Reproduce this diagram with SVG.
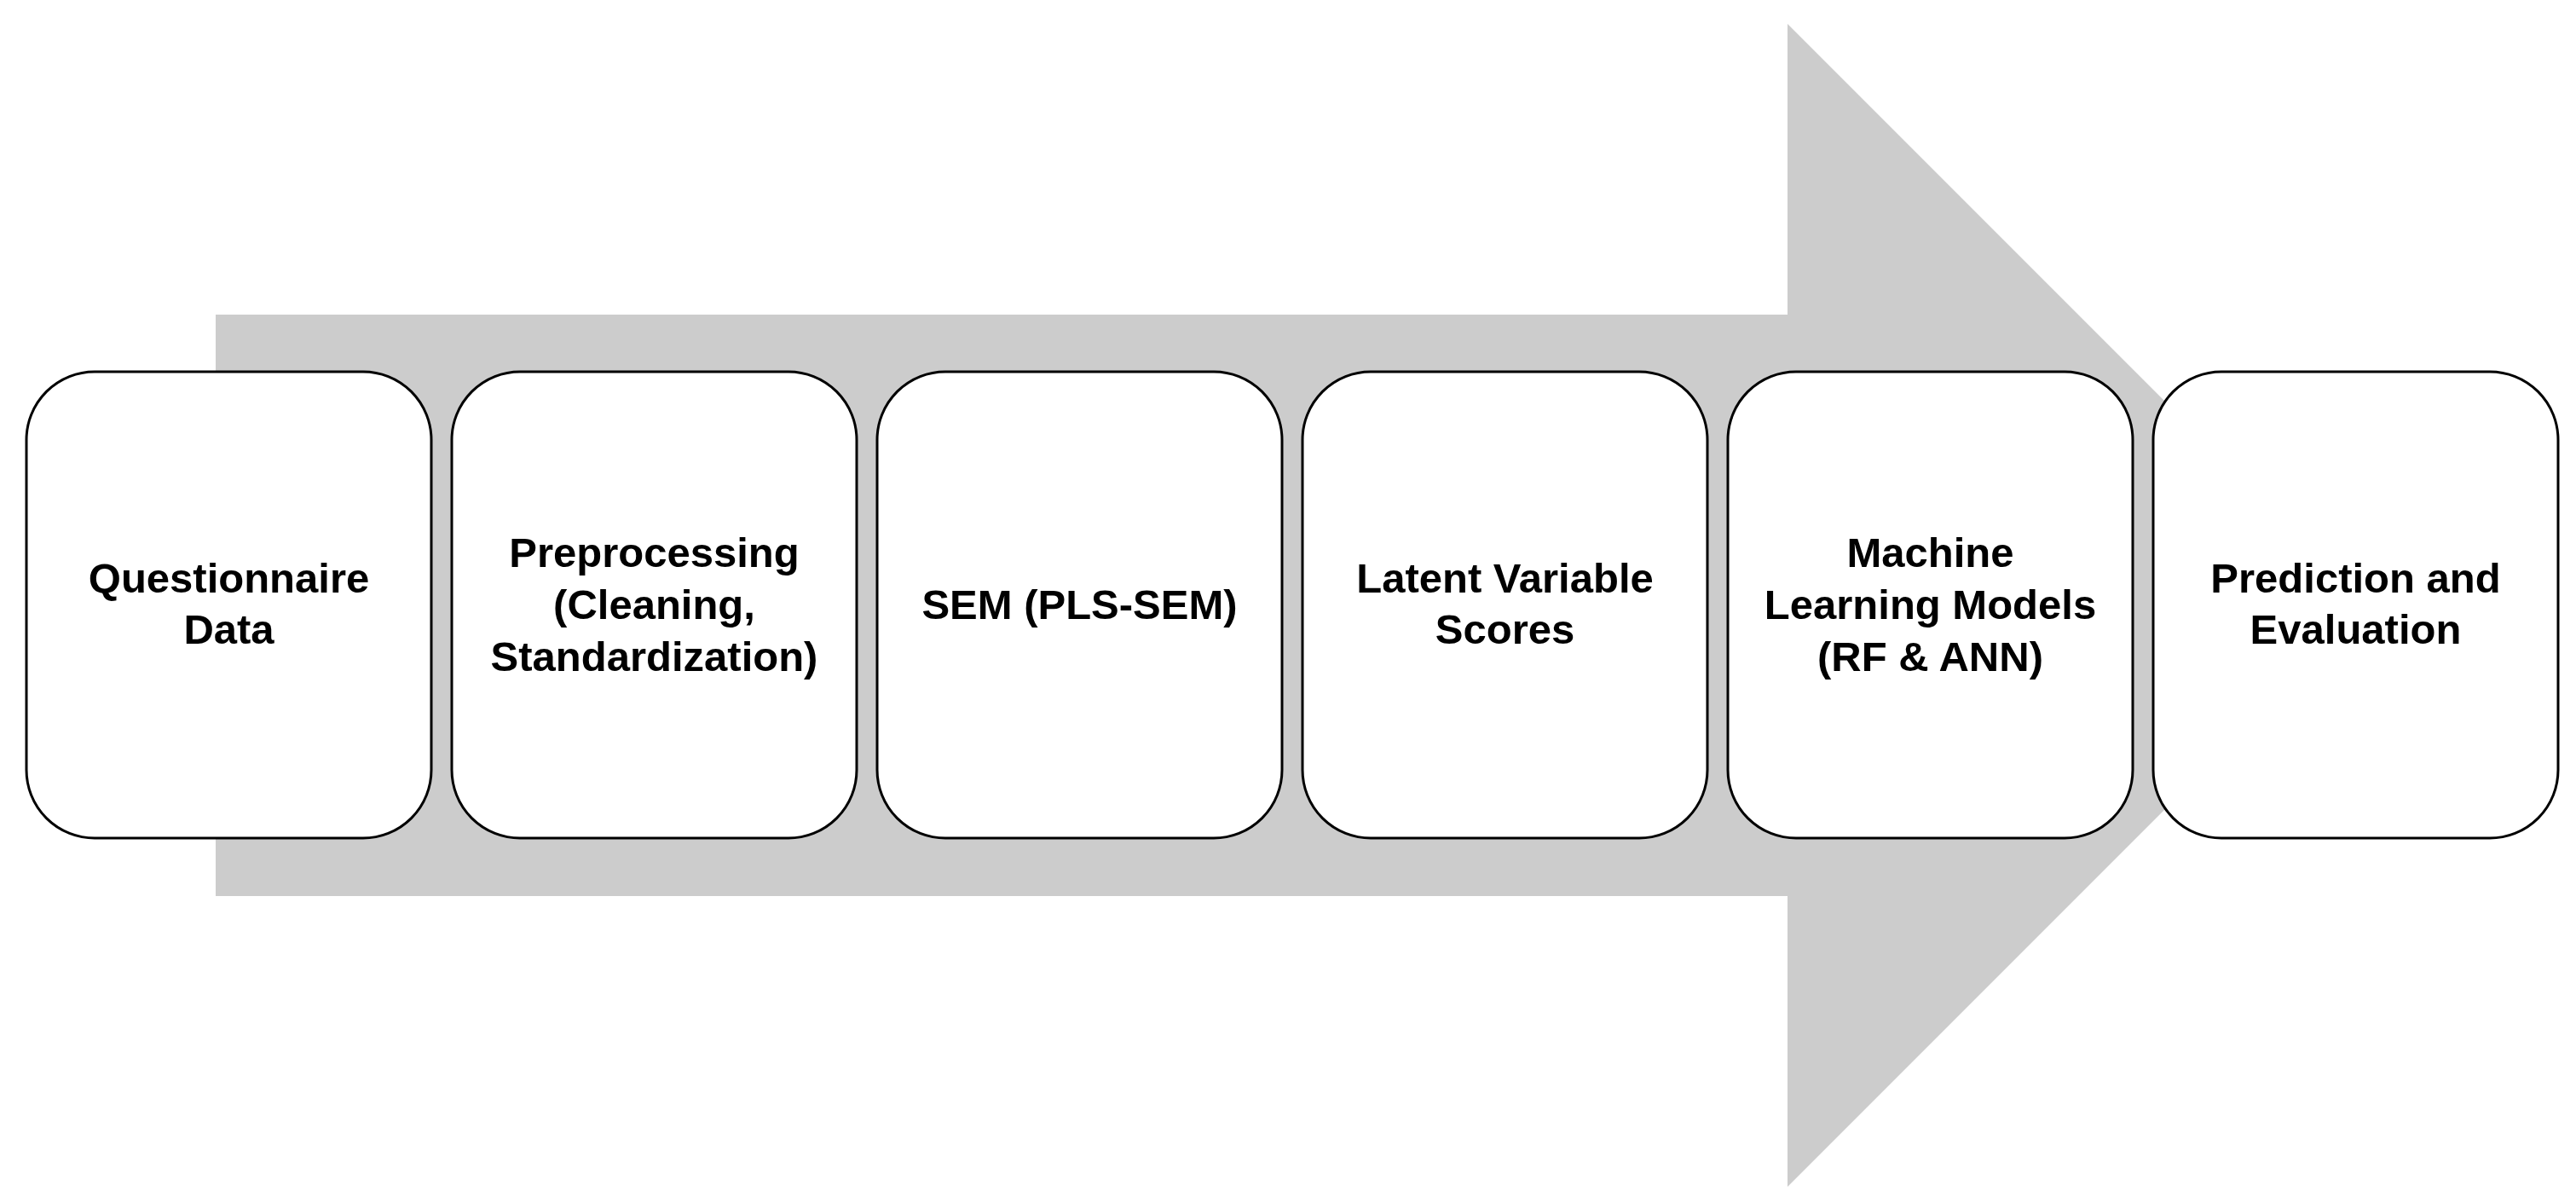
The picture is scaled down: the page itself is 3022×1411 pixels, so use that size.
<svg xmlns="http://www.w3.org/2000/svg" width="3022" height="1411" viewBox="0 0 3022 1411">
<style>
.box{fill:#ffffff;stroke:#000000;stroke-width:3}
.lbl{font-family:"Liberation Sans",Arial,sans-serif;font-weight:bold;font-size:49px;fill:#000000;text-anchor:middle}
</style>
<rect width="3022" height="1411" fill="#ffffff"/>
<g id="connectors">
<polygon points="253,369 2097,369 2097,28 2779,710 2097,1392 2097,1051 253,1051" fill="#cccccc"/>
</g>
<g id="n1"><rect class="box" x="31" y="436" width="475" height="547" rx="80" ry="80"/>
<text class="lbl" x="268.5"><tspan x="268.5" y="695">Questionnaire</tspan><tspan x="268.5" y="755">Data</tspan></text></g>
<g id="n2"><rect class="box" x="530" y="436" width="475" height="547" rx="80" ry="80"/>
<text class="lbl" x="767.5"><tspan x="767.5" y="665">Preprocessing</tspan><tspan x="767.5" y="726">(Cleaning,</tspan><tspan x="767.5" y="787">Standardization)</tspan></text></g>
<g id="n3"><rect class="box" x="1029" y="436" width="475" height="547" rx="80" ry="80"/>
<text class="lbl" x="1266.5" y="726">SEM (PLS-SEM)</text></g>
<g id="n4"><rect class="box" x="1528" y="436" width="475" height="547" rx="80" ry="80"/>
<text class="lbl" x="1765.5"><tspan x="1765.5" y="695">Latent Variable</tspan><tspan x="1765.5" y="755">Scores</tspan></text></g>
<g id="n5"><rect class="box" x="2027" y="436" width="475" height="547" rx="80" ry="80"/>
<text class="lbl" x="2264.5"><tspan x="2264.5" y="665">Machine</tspan><tspan x="2264.5" y="726">Learning Models</tspan><tspan x="2264.5" y="787">(RF &amp; ANN)</tspan></text></g>
<g id="n6"><rect class="box" x="2526" y="436" width="475" height="547" rx="80" ry="80"/>
<text class="lbl" x="2763.5"><tspan x="2763.5" y="695">Prediction and</tspan><tspan x="2763.5" y="755">Evaluation</tspan></text></g>
</svg>
